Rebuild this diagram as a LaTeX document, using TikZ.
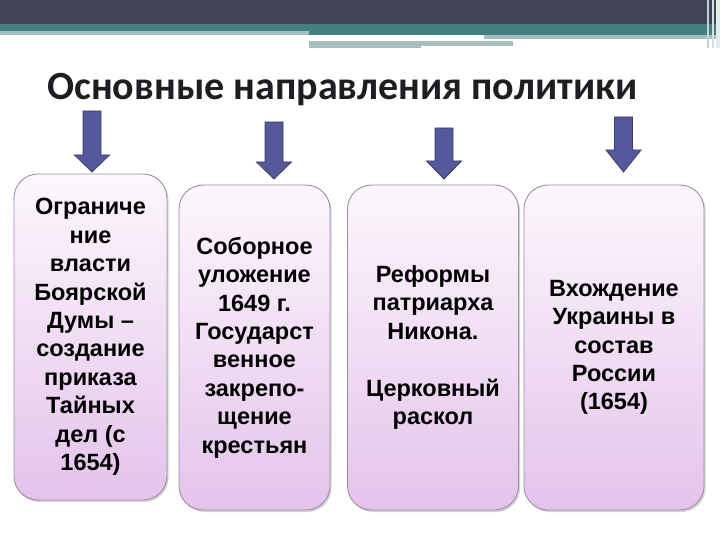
\documentclass[tikz,border=0pt]{standalone}
\usepackage{fontspec}
\setmainfont{Liberation Sans}
\newfontfamily\titlefont{Carlito}
\usetikzlibrary{shadows}
\definecolor{hdrdark}{HTML}{424456}
\definecolor{hdrteal}{HTML}{44807F}
\definecolor{hdrlight}{HTML}{A7BEC1}
\definecolor{titlecol}{HTML}{1E1E22}
\definecolor{arrfill}{HTML}{55589A}
\definecolor{arredge}{HTML}{3A3D6C}
\definecolor{boxtop}{HTML}{FCF7FC}
\definecolor{boxbot}{HTML}{E4C3EB}
\definecolor{boxedge}{HTML}{9C8FA2}
\begin{document}
\begin{tikzpicture}[x=1pt,y=-1pt,
  box/.style={draw=boxedge, line width=0.9pt, rounded corners=24pt,
    top color=boxtop, bottom color=boxbot, inner sep=0pt, align=center,
    font=\bfseries\fontsize{23.5}{28.4}\selectfont,
    drop shadow={shadow xshift=1.5pt, shadow yshift=-2pt, fill=black!35, opacity=0.5}},
  blockarrow/.style={fill=arrfill, draw=arredge, line width=0.8pt, line join=miter}]
\useasboundingbox (0,0) rectangle (720,540);
\fill[white] (0,0) rectangle (720,540);
% header
\fill[hdrdark] (0,0) rectangle (720,24);
\fill[hdrteal] (0,24) rectangle (720,31);
\fill[hdrlight] (0,31) rectangle (309,35);
\fill[hdrteal] (309,31) rectangle (720,35.5);
\fill[hdrlight] (484,35.5) rectangle (720,39.5);
\fill[hdrlight] (309,41) rectangle (421,48.5);
\fill[hdrlight] (421,41) rectangle (513,46);
\fill[hdrlight!70] (707,0) rectangle (709,48);
\fill[hdrlight!50] (712,0) rectangle (714,48);
\fill[hdrlight!30] (716,0) rectangle (720,48);
% title
\node[anchor=base, text=titlecol, font=\titlefont\bfseries\fontsize{40}{44}\selectfont] (title) at (342.5,100) {Основные направления политики};
% arrows
\foreach \cx/\top/\hy/\tip in {92/111/155/172, 274/122/162/179, 444/128/161/179, 623.5/117/150/172}{
  \draw[blockarrow] (\cx-9,\top) -- (\cx+9,\top) -- (\cx+9,\hy) -- (\cx+17.5,\hy) -- (\cx,\tip) -- (\cx-17.5,\hy) -- (\cx-9,\hy) -- cycle;
}
% boxes
\node[box, minimum width=153pt, minimum height=326pt] (b1) at (90.5,337) {Ограниче\\ние\\власти\\Боярской\\Думы --\\создание\\приказа\\Тайных\\дел (с\\1654)};
\node[box, minimum width=151pt, minimum height=325pt] (b2) at (254.5,347.5) {Соборное\\уложение\\1649 г.\\Государст\\венное\\закрепо-\\щение\\крестьян};
\node[box, minimum width=171pt, minimum height=325pt] (b3) at (433,347.5) {Реформы\\патриарха\\Никона.\\[28.4pt]Церковный\\раскол};
\node[box, minimum width=180pt, minimum height=325pt] (b4) at (614,347.5) {Вхождение\\Украины в\\состав\\России\\(1654)};
\end{tikzpicture}
\end{document}
